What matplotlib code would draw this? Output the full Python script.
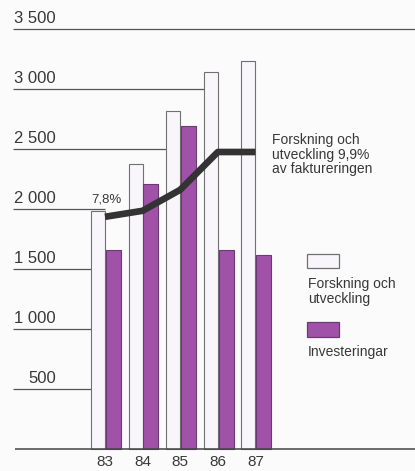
import numpy as np
import matplotlib
matplotlib.use("Agg")
import matplotlib.pyplot as plt
from matplotlib.patches import Rectangle

plt.rcParams['font.family'] = ['Liberation Sans', 'DejaVu Sans']

# Data (miljoner kr)
years = ['83', '84', '85', '86', '87']
forskning = [1980, 2375, 2815, 3140, 3235]
investeringar = [1660, 2205, 2695, 1660, 1615]
andel_linje = [1935, 1985, 2160, 2475, 2475]
grid_values = [500, 1000, 1500, 2000, 2500, 3000, 3500]
grid_labels = ['500', '1 000', '1 500', '2 000', '2 500', '3 000', '3 500']

W, H = 415, 471
fig = plt.figure(figsize=(W / 100, H / 100), dpi=100)
bg = '#fcfbfc'
fig.patch.set_facecolor(bg)
ax = fig.add_axes([0, 0, 1, 1])
ax.set_facecolor(bg)
ax.axis('off')

# pixel -> data: group spacing 37.6 px, first group boundary at x=105 px
px_per_group = 37.6
x_origin = 105
ax.set_xlim(-x_origin / px_per_group, (W - x_origin) / px_per_group)
px_per_unit = 60 / 500
ax.set_ylim(-(H - 449) / px_per_unit, 449 / px_per_unit)

x = np.arange(len(years))
w_white = 0.37
w_purple = 0.40
purple = '#a052a9'

# gridlines, stopped where the first taller bar (or the line) starts
x_start = (13 - x_origin) / px_per_group
for v, lab in zip(grid_values, grid_labels):
    taller = [i for i, h in enumerate(forskning) if h >= v]
    if not taller:
        x_end = ax.get_xlim()[1]
    else:
        x_end = taller[0] - w_white
        if v <= andel_linje[0] + 100 and taller[0] > 0:
            x_end = 0
    ax.hlines(v, x_start, x_end, color='#555555', lw=0.9, zorder=1)
    ax.text(56 / W, v + 28, lab, transform=ax.get_yaxis_transform(),
            ha='right', va='bottom', fontsize=12, color='#383838')

# baseline
ax.hlines(0, (15 - x_origin) / px_per_group, ax.get_xlim()[1],
          color='#444444', lw=1.1, zorder=4)

ax.bar(x, forskning, width=-w_white, align='edge', color='#f8f6fa',
       edgecolor='#707070', lw=0.8, zorder=2)
ax.bar(x + 0.02, investeringar, width=w_purple, align='edge', color=purple,
       edgecolor='#6a3a72', lw=0.8, zorder=2)

ax.plot(x, andel_linje, color='#333333', lw=4.8, solid_capstyle='butt',
        solid_joinstyle='round', zorder=3)

for xi, lab in zip(x, years):
    ax.text(xi, -108, lab, ha='center', va='center', fontsize=11,
            color='#383838')

ax.text(91 / W, 1 - 203 / H, '7,8%', transform=ax.transAxes, fontsize=9.5,
        color='#383838', ha='left', va='baseline')
ax.text(272 / W, 1 - 133 / H, 'Forskning och\nutveckling 9,9%\nav faktureringen',
        transform=ax.transAxes, fontsize=10, color='#383838', ha='left',
        va='top', linespacing=1.05)

# legend
ax.add_patch(Rectangle((307 / W, 1 - 268 / H), 32 / W, 14 / H,
                       transform=ax.transAxes, facecolor='#f8f6fa',
                       edgecolor='#707070', lw=0.9, zorder=5))
ax.text(308 / W, 1 - 277 / H, 'Forskning och\nutveckling', transform=ax.transAxes,
        fontsize=10, color='#383838', ha='left', va='top', linespacing=1.05)
ax.add_patch(Rectangle((307 / W, 1 - 337 / H), 32 / W, 15 / H,
                       transform=ax.transAxes, facecolor=purple,
                       edgecolor='#6a3a72', lw=0.9, zorder=5))
ax.text(308 / W, 1 - 345 / H, 'Investeringar', transform=ax.transAxes,
        fontsize=10, color='#383838', ha='left', va='top')

fig.savefig('out.png', dpi=100, facecolor=bg)
